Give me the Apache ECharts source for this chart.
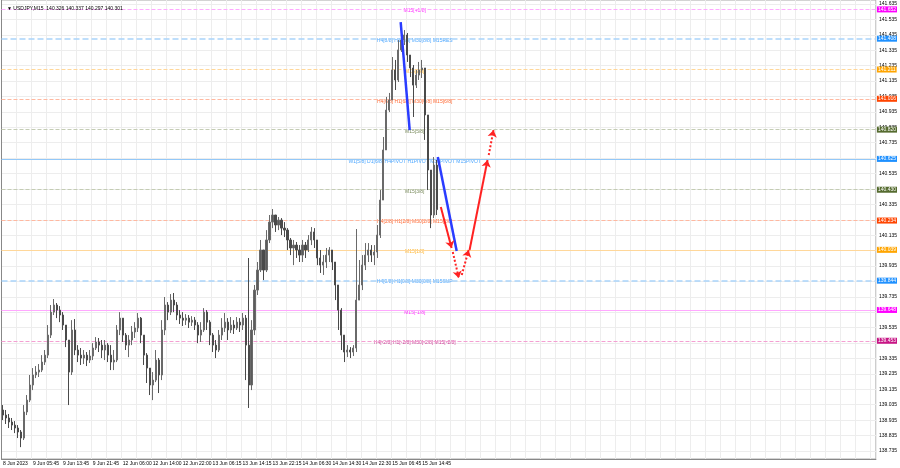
<!DOCTYPE html>
<html><head><meta charset="utf-8">
<script src="https://cdn.jsdelivr.net/npm/echarts@6/dist/echarts.min.js"></script>
<style>html,body{margin:0;padding:0;background:#fff}#c{width:900px;height:468px}</style>
</head><body><div id="c"></div>
<script>
const titleText = '\u25BC USDJPY,M15  140.326 140.337 140.297 140.301';
const timeLabels = ['8 Jun 2023','9 Jun 05:45','9 Jun 13:45','9 Jun 21:45','12 Jun 06:00','12 Jun 14:00','12 Jun 22:00','13 Jun 06:15','13 Jun 14:15','13 Jun 22:15','14 Jun 06:30','14 Jun 14:30','14 Jun 22:30','15 Jun 06:45','15 Jun 14:45'];
const priceTicks = [141.635,141.535,141.435,141.335,141.235,141.135,141.035,140.935,140.835,140.735,140.635,140.535,140.435,140.335,140.235,140.135,140.035,139.935,139.835,139.735,139.635,139.535,139.435,139.335,139.235,139.135,139.035,138.935,138.835,138.735];
const priceLabels = [141.635,141.535,141.435,141.335,141.235,141.135,141.035,140.935,140.835,140.735,140.535,140.335,140.135,139.935,139.735,139.535,139.335,139.235,139.135,139.035,138.935,138.835,138.735];

const firstOpen = 139.001;
const closes = [138.968,138.949,138.923,138.903,138.884,138.858,138.819,138.988,139.065,139.163,
139.228,139.247,139.260,139.312,139.357,139.487,139.636,139.682,139.649,139.617,
139.552,139.455,139.247,139.520,139.390,139.357,139.338,139.357,139.325,139.351,
139.403,139.442,139.422,139.390,139.422,139.357,139.312,139.325,139.520,139.597,
139.487,139.422,139.455,139.507,139.533,139.597,139.487,139.357,139.273,139.163,
139.195,139.325,139.228,139.520,139.682,139.636,139.714,139.682,139.617,139.597,
139.584,139.597,139.571,139.584,139.552,139.487,139.520,139.636,139.571,139.487,
139.422,139.390,139.487,139.533,139.571,139.520,139.552,139.533,139.571,139.552,
139.597,139.422,139.163,139.520,139.779,139.909,140.039,139.909,140.104,140.220,
140.266,140.201,140.233,140.181,140.168,140.104,140.052,140.071,140.039,140.006,
140.071,140.039,140.104,140.156,140.104,139.987,139.941,139.961,140.006,140.039,
139.961,139.812,139.649,139.487,139.377,139.390,139.377,139.403,139.714,139.812,
139.941,140.006,140.039,140.006,140.026,140.136,140.363,140.688,140.947,141.012,
141.207,141.142,141.337,141.401,141.434,141.304,141.220,141.109,141.174,141.207,
141.220,140.915,140.558,140.266,140.590,140.301];
const highs = [139.033,139.001,138.975,138.949,138.929,138.903,138.871,139.033,139.098,139.228,
139.273,139.286,139.299,139.357,139.390,139.552,139.682,139.721,139.695,139.675,
139.636,139.552,139.455,139.584,139.591,139.422,139.403,139.390,139.377,139.390,
139.435,139.474,139.468,139.455,139.455,139.435,139.422,139.390,139.552,139.636,
139.597,139.500,139.487,139.546,139.571,139.630,139.604,139.487,139.370,139.247,
139.247,139.390,139.338,139.584,139.734,139.701,139.753,139.760,139.701,139.649,
139.636,139.623,139.617,139.610,139.604,139.571,139.571,139.662,139.649,139.584,
139.500,139.455,139.520,139.597,139.630,139.597,139.604,139.584,139.604,139.597,
139.630,139.617,139.987,139.584,139.812,139.961,140.104,140.039,140.168,140.266,
140.305,140.266,140.253,140.246,140.220,140.181,140.117,140.104,140.091,140.071,
140.104,140.091,140.136,140.188,140.181,140.104,140.039,140.006,140.052,140.058,
140.039,139.961,139.812,139.662,139.487,139.422,139.409,139.422,140.175,139.974,
140.006,140.084,140.084,140.071,140.071,140.201,140.428,140.772,141.032,141.058,
141.291,141.272,141.401,141.453,141.466,141.447,141.304,141.239,141.207,141.259,
141.272,141.220,140.915,140.558,140.642,140.623];
const lows = [138.936,138.910,138.884,138.871,138.851,138.819,138.760,138.806,138.968,139.052,
139.130,139.208,139.215,139.247,139.293,139.338,139.468,139.617,139.597,139.571,
139.520,139.409,139.033,139.228,139.357,139.312,139.293,139.299,139.286,139.306,
139.325,139.390,139.377,139.338,139.325,139.312,139.260,139.260,139.312,139.487,
139.442,139.390,139.344,139.422,139.468,139.507,139.435,139.293,139.176,139.098,
139.065,139.182,139.111,139.195,139.487,139.584,139.617,139.636,139.584,139.559,
139.546,139.552,139.533,139.546,139.520,139.435,139.442,139.507,139.520,139.422,
139.377,139.338,139.377,139.455,139.507,139.455,139.500,139.494,139.520,139.507,
139.520,139.195,139.014,139.130,139.487,139.747,139.896,139.844,139.896,140.084,
140.181,140.156,140.168,140.136,140.123,140.039,140.006,139.941,139.987,139.961,
139.961,139.987,140.026,140.071,140.052,139.941,139.890,139.877,139.922,139.961,
139.909,139.714,139.520,139.390,139.312,139.344,139.338,139.351,139.377,139.734,
139.779,139.909,139.961,139.961,139.941,139.987,140.117,140.363,140.688,140.934,
141.012,141.077,141.129,141.324,141.369,141.259,141.161,140.902,141.090,141.142,
141.155,140.753,140.428,140.181,140.246,140.266];

const levelPrices = [141.603,141.408,141.211,141.016,140.820,140.625,140.430,140.234,140.039,139.844,139.648,139.453];
const levelTags = ['141.652','141.408','141.211','141.016','140.820','140.625','140.430','140.234','140.039','139.844','139.648','139.453'];
const levelTexts = ['M15[+1/8]','H4[8/8] H1[8/8] M30[8/8] M15RES','M15[7/8]','H4[6/8] H1[6/8] M30[6/8] M15[6/8]','M15[5/8]','W1[5/8] D1[6/8] H4PIVOT H1PIVOT M30PIVOT M15PIVOT','M15[3/8]','H4[2/8] H1[2/8] M30[2/8] M15[2/8]','M15[1/8]','H4[0/8] H1[0/8] M30[0/8] M15SUP','M15[-1/8]','H4[-2/8] H1[-2/8] M30[-2/8] M15[-2/8]'];
const levelLineColors = ['#ffa8ff','#a9d3fa','#ffd79a','#ffb8a0','#c4ccb4','#93c8f8','#c4ccb4','#ffb8a0','#ffd79a','#a9d3fa','#ffa8ff','#f4a0d2'];
const levelBoxColors = ['#ff00ff','#1e90ff','#ffa500','#ff4500','#556b2f','#1e90ff','#556b2f','#ff4500','#ffa500','#1e90ff','#ff00ff','#c71585'];
const levelTextColors = ['#ff00ff','#1e90ff','#ffa500','#ff4500','#556b2f','#1e90ff','#556b2f','#ff4500','#ffa500','#1e90ff','#ff00ff','#c71585'];
const levelDash = ['dashed','dashed','dashed','dashed','dashed','solid','dashed','dashed','solid','dashed','solid','dashed'];
const levelWidth = [1,1.5,1,1,1,1,1,1,1,1.5,1,1];
const labelBar = 138;

const blueLines = [[[133.3,141.518],[136.3,140.817]],[[145.7,140.642],[152.0,140.032]]];
const redSegs = [[[146.7,140.318],[150.3,140.052]],[[150.7,140.026],[152.7,139.857]],[[153.7,139.877],[156.0,140.039]],[[156.3,140.039],[162.3,140.623]],[[162.7,140.655],[164.3,140.817]]];
const redDotted = [false,true,true,false,true];

const NCAT = 292;
const cats = []; for (let i = 0; i < NCAT; i++) cats.push(String(i));
const ohlc = closes.map((c, i) => [i === 0 ? firstOpen : closes[i - 1], c, lows[i], highs[i]]);

const FONT = 'Liberation Sans';
const markData = levelPrices.map((p, i) => ({
  yAxis: p,
  lineStyle: {color: levelLineColors[i], type: levelDash[i], width: levelWidth[i]},
  label: {show: true, position: 'end', formatter: levelTags[i], color: '#fff', backgroundColor: levelBoxColors[i],
          fontSize: 5, fontFamily: FONT, padding: [1, 1, 0, 1], distance: 1}
}));
markData.push({
  yAxis: closes[closes.length - 1],
  lineStyle: {opacity: 0},
  label: {show: true, position: 'end', formatter: '140.301', color: '#fff', backgroundColor: '#000',
          fontSize: 5, fontFamily: FONT, padding: [1, 1, 0, 1], distance: 1}
});

const chart = echarts.init(document.getElementById('c'), null, {renderer: 'canvas'});
chart.setOption({
  animation: false,
  backgroundColor: '#ffffff',
  title: {text: titleText, left: 2, top: 1, textStyle: {fontSize: 5, fontWeight: 'normal', color: '#000', fontFamily: FONT}},
  grid: {left: 0, right: 23, top: 0, bottom: 9, show: true, borderColor: '#a8a8a8', borderWidth: 1},
  xAxis: [{
    type: 'category', data: cats, boundaryGap: true,
    axisLine: {show: true, lineStyle: {color: '#888'}},
    axisTick: {show: false},
    axisLabel: {interval: (idx) => idx % 10 === 0 && idx / 10 < timeLabels.length,
      formatter: (v, idx) => timeLabels[Math.round(Number(v) / 10)] || '',
      align: 'left', fontSize: 5, color: '#000', margin: 2, fontFamily: FONT},
    splitLine: {show: true, interval: (idx) => idx % 5 === 0, lineStyle: {color: '#ededed', width: 1}}
  }, {
    type: 'value', min: 0, max: NCAT, show: false
  }],
  yAxis: {
    type: 'value', position: 'right', min: 138.683, max: 141.661, scale: true,
    axisLine: {show: true, lineStyle: {color: '#888'}},
    axisTick: {show: false, customValues: priceTicks},
    axisLabel: {customValues: priceLabels, fontSize: 5, color: '#000', margin: 3, fontFamily: FONT,
      formatter: (v) => v.toFixed(3)},
    splitLine: {show: true, lineStyle: {color: '#ededed', width: 1}}
  },
  series: [
    {
      type: 'scatter', xAxisIndex: 1, symbolSize: 0, z: 1, silent: true,
      data: levelPrices.map((p, i) => ({value: [labelBar, p],
        label: {show: true, position: 'inside', offset: [0, 2], formatter: levelTexts[i], color: levelTextColors[i], fontSize: 5, fontFamily: FONT}}))
    },
    {
      type: 'candlestick', data: ohlc, barWidth: 1.6, z: 3,
      itemStyle: {color: '#5c5c5c', color0: '#4a4a4a', borderColor: '#6a6a6a', borderColor0: '#4a4a4a', borderWidth: 1},
      markLine: {symbol: 'none', silent: true, animation: false, data: markData, z: 2}
    },
    {
      type: 'lines', coordinateSystem: 'cartesian2d', xAxisIndex: 1, z: 5, silent: true,
      lineStyle: {color: '#2a3cff', width: 2.5, opacity: 1},
      data: blueLines.map(c => ({coords: c}))
    },
    {
      type: 'lines', coordinateSystem: 'cartesian2d', xAxisIndex: 1, z: 6, silent: true,
      symbol: ['none', 'arrow'], symbolSize: 7,
      lineStyle: {color: '#ff2222', width: 2, opacity: 1},
      data: redSegs.map((c, i) => ({coords: c, lineStyle: {type: redDotted[i] ? [2, 2] : 'solid'}}))
    }
  ]
});
</script></body></html>
